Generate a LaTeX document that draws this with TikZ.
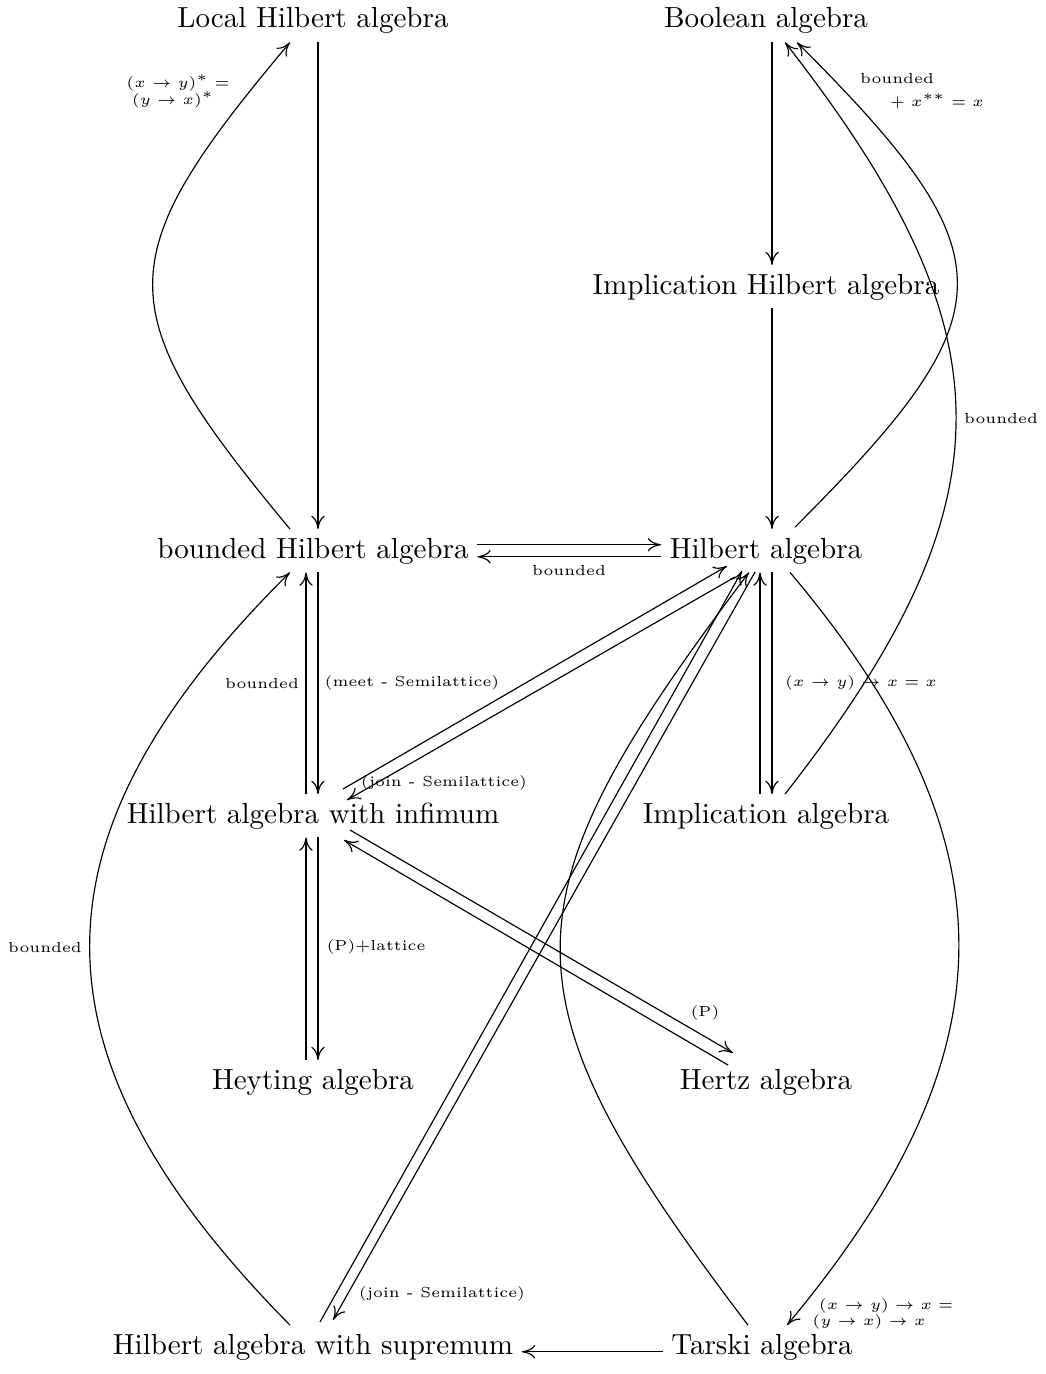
\documentclass[tikz,border=0pt]{standalone}
\usetikzlibrary{calc,arrows.meta}
\begin{document}
\begin{tikzpicture}[x=0.344pt,y=-0.344pt,
  obj/.style={inner sep=0pt,outer sep=3pt,text height=6.94pt,text depth=1.94pt,anchor=base,font=\normalsize},
  arr/.style={line width=0.4pt,-{Computer Modern Rightarrow[length=4.6pt,width=4.6pt]}},
  lbl/.style={font=\tiny,inner sep=0pt}]
\useasboundingbox (0,0) rectangle (1046,1374);
% nodes
\node[obj] (LH)  at (313,28)   {Local Hilbert algebra};
\node[obj] (BA)  at (766,28)   {Boolean algebra};
\node[obj] (IH)  at (766,294)  {Implication Hilbert algebra};
\node[obj] (bH)  at (313,558)  {bounded Hilbert algebra};
\node[obj] (H)   at (766,558)  {Hilbert algebra};
\node[obj] (HI)  at (313,823)  {Hilbert algebra with infimum};
\node[obj] (IA)  at (766,823)  {Implication algebra};
\node[obj] (Hey) at (313,1089) {Heyting algebra};
\node[obj] (Hz)  at (766,1089) {Hertz algebra};
\node[obj] (HS)  at (313,1354) {Hilbert algebra with supremum};
\node[obj] (T)   at (762,1354) {Tarski algebra};
% straight vertical arrows
\draw[arr] ($(LH.south)+(5,0)$) -- ($(bH.north)+(5,0)$);
\draw[arr] ($(BA.south)+(6,0)$) -- ($(IH.north)+(6,0)$);
\draw[arr] ($(IH.south)+(6,0)$) -- ($(H.north)+(6,0)$);
\draw[arr] ($(bH.south)+(5,0)$) -- ($(HI.north)+(5,0)$);
\draw[arr] ($(HI.north)+(-7,0)$) -- ($(bH.south)+(-7,0)$);
\draw[arr] ($(HI.south)+(5,0)$) -- ($(Hey.north)+(5,0)$);
\draw[arr] ($(Hey.north)+(-7,0)$) -- ($(HI.south)+(-7,0)$);
\draw[arr] ($(H.south)+(6,0)$) -- ($(IA.north)+(6,0)$);
\draw[arr] ($(IA.north)+(-6,0)$) -- ($(H.south)+(-6,0)$);
% horizontal arrows
\draw[arr] ($(bH.east)+(0,-6)$) -- ($(H.west)+(0,-6)$);
\draw[arr] ($(H.west)+(0,6)$) -- ($(bH.east)+(0,6)$);
\draw[arr] ($(T.west)+(0,5)$) -- ($(HS.east)+(0,5)$);
% diagonals
\draw[arr] ($(HI.base)+(30,-34)$) -- ($(H.base)+(-39,8)$);
\draw[arr] ($(H.base)+(-31,19)$) -- ($(HI.base)+(34,-23)$);
\draw[arr] ($(HI.base)+(37,7)$) -- ($(Hz.base)+(-33,-36)$);
\draw[arr] ($(Hz.base)+(-38,-24)$) -- ($(HI.base)+(31,17)$);
\draw[arr] ($(HS.base)+(7,-32)$) -- ($(H.base)+(-24,13)$);
\draw[arr] ($(H.base)+(-11,14)$) -- ($(HS.base)+(20,-34)$);
% curves
\draw[arr] ($(bH.north)+(-23,0)$) .. controls (107,309) and (107,260) .. ($(LH.south)+(-23,0)$);
\draw[arr] ($(H.north)+(29,-2)$) .. controls (1010,312) and (1012,257) .. ($(BA.south)+(31,0)$);
\draw[arr] ($(IA.north)+(19,0)$) .. controls (1013,502) and (1013,334) .. ($(BA.south)+(19,0)$);
\draw[arr] ($(HS.north)+(-23,0)$) .. controls (23,1055) and (23,837) .. ($(bH.south)+(-23,0)$);
\draw[arr] ($(H.south)+(24,0)$) .. controls (1017,842) and (1014,1053) .. ($(T.north)+(25,0)$);
\draw[arr] ($(T.north)+(-14,0)$) .. controls (495,992) and (500,902) .. ($(H.south)+(-17,0)$);
% labels
\node[lbl] (l1a) at (178,83)  {$(x\to y)^*=$};
\node[lbl] (l1b) at (173,100) {$(y\to x)^*$};
\node[lbl] (l2a) at (897,79)  {bounded};
\node[lbl] (l2b) at (937,101) {$+\;x^{**}=x$};
\node[lbl] (l3)  at (1001,419) {bounded};
\node[lbl] (l4)  at (569,571) {bounded};
\node[lbl] (l5)  at (262,684) {bounded};
\node[lbl] (l6)  at (412,683) {(meet - Semilattice)};
\node[lbl] (l7)  at (444,783) {(join - Semilattice)};
\node[lbl] (l8)  at (861,683) {$(x\to y)\to x=x$};
\node[lbl] (l9)  at (376,947) {(P)+lattice};
\node[lbl] (l10) at (705,1013) {(P)};
\node[lbl] (l11) at (45,948)  {bounded};
\node[lbl] (l12) at (442,1294) {(join - Semilattice)};
\node[lbl] (l13a) at (886,1306) {$(x\to y)\to x=$};
\node[lbl] (l13b) at (869,1322) {$(y\to x)\to x$};
\end{tikzpicture}
\end{document}
